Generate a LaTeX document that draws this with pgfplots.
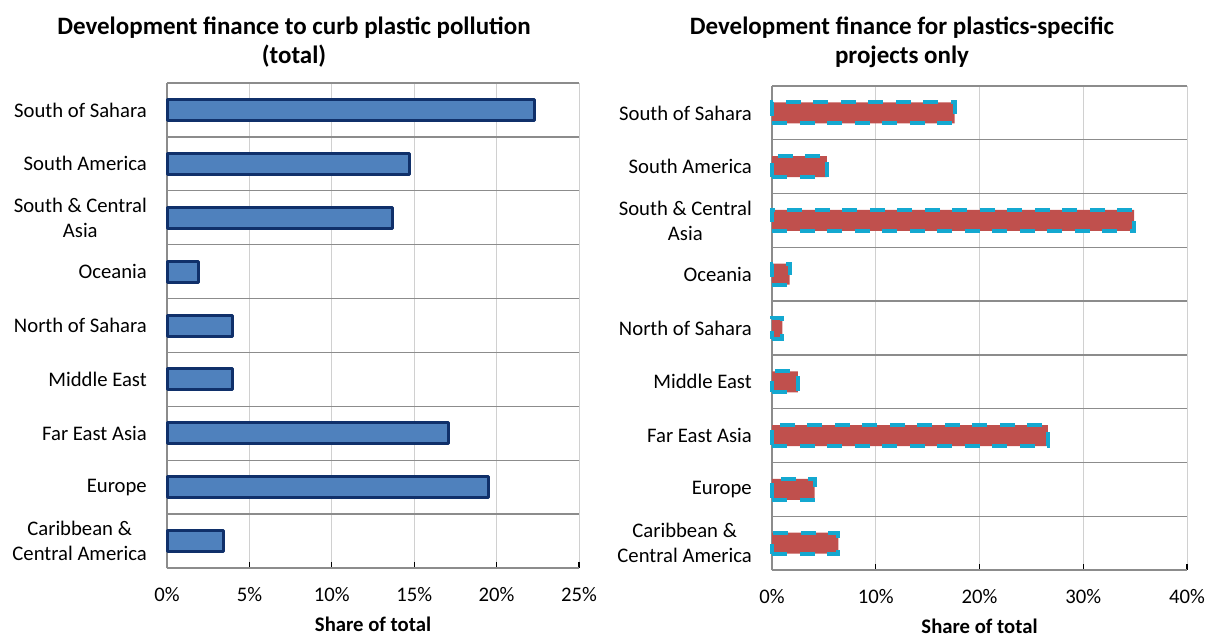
\documentclass[border=0pt]{standalone}
\usepackage{fontspec}
\setmainfont{Carlito}
\usepackage{pgfplots}
\pgfplotsset{compat=1.18}

\definecolor{barblue}{HTML}{4F81BD}
\definecolor{bardark}{HTML}{10306A}
\definecolor{barred}{HTML}{C0504D}
\definecolor{dashcyan}{HTML}{14A8D0}
\definecolor{catgrid}{HTML}{8C8C8C}
\definecolor{valgrid}{HTML}{D0D0D0}

\pgfplotsset{
  regionbars/.style={
    scale only axis,
    ymin=-0.5, ymax=8.5,
    xmin=0,
    ytick={0,...,8},
    yticklabels={{Caribbean \&\\Central America},Europe,Far East Asia,Middle East,North of Sahara,Oceania,{South \& Central\\Asia},South America,South of Sahara},
    ytick style={draw=none},
    extra y ticks={-0.5,0.5,...,8.5},
    extra y tick labels={},
    extra y tick style={ytick align=outside, grid=major,
      major grid style={catgrid, line width=1.3pt},
      tick style={catgrid, line width=1.3pt}},
    xmajorgrids,
    major grid style={valgrid, line width=1pt},
    xtick align=inside,
    major tick length=6pt,
    xtick style={black, line width=1.3pt},
    axis x line*=bottom, axis y line*=left,
    x axis line style={black, line width=2.2pt, -},
    y axis line style={catgrid, line width=1.3pt, -},
    /pgf/number format/assume math mode=true,
    xticklabel={\pgfmathprintnumber{\tick}\%},
    tick label style={font=\fontsize{20.7}{25}\selectfont},
    yticklabel style={anchor=east, inner sep=0pt, xshift=-20pt, align=center},
    xticklabel style={anchor=base, inner sep=0pt, yshift=-33pt},
    xlabel={Share of total},
    xlabel style={font=\bfseries\fontsize{20.7}{25}\selectfont,
      at={(axis description cs:0.5,0)}, anchor=base, yshift=-63pt},
    clip=false,
  }
}

\begin{document}
\begin{tikzpicture}
\useasboundingbox (0pt,-635pt) rectangle (1207pt,0pt);

% Titles
\node[anchor=base, font=\bfseries\fontsize{25}{30}\selectfont] at (294pt,-34pt) {Development finance to curb plastic pollution};
\node[anchor=base, font=\bfseries\fontsize{25}{30}\selectfont] at (294pt,-63pt) {(total)};
\node[anchor=base, font=\bfseries\fontsize{25}{30}\selectfont] at (902pt,-34pt) {Development finance for plastics-specific};
\node[anchor=base, font=\bfseries\fontsize{25}{30}\selectfont] at (902pt,-63pt) {projects only};

% Left: all development finance
\begin{axis}[regionbars,
  at={(167pt,-568pt)}, anchor=south west,
  width=412pt, height=485pt,
  xmax=25, xtick={0,5,...,25}]
\addplot[xbar, bar width=21pt, fill=barblue, draw=bardark, line width=3pt, line join=round]
  coordinates {(3.4,0) (19.5,1) (17.1,2) (3.95,3) (4.0,4) (1.9,5) (13.7,6) (14.7,7) (22.3,8)};
\end{axis}

% Right: plastics-specific projects
\begin{axis}[regionbars,
  at={(772pt,-570pt)}, anchor=south west,
  width=415pt, height=484pt,
  xmax=40, xtick={0,10,...,40}]
\addplot[xbar, bar width=21pt, fill=barred, draw=dashcyan, line width=4pt, dash pattern=on 15pt off 12.5pt]
  coordinates {(6.4,0) (4.1,1) (26.6,2) (2.5,3) (1.0,4) (1.7,5) (34.9,6) (5.3,7) (17.6,8)};
\end{axis}
\end{tikzpicture}
\end{document}
